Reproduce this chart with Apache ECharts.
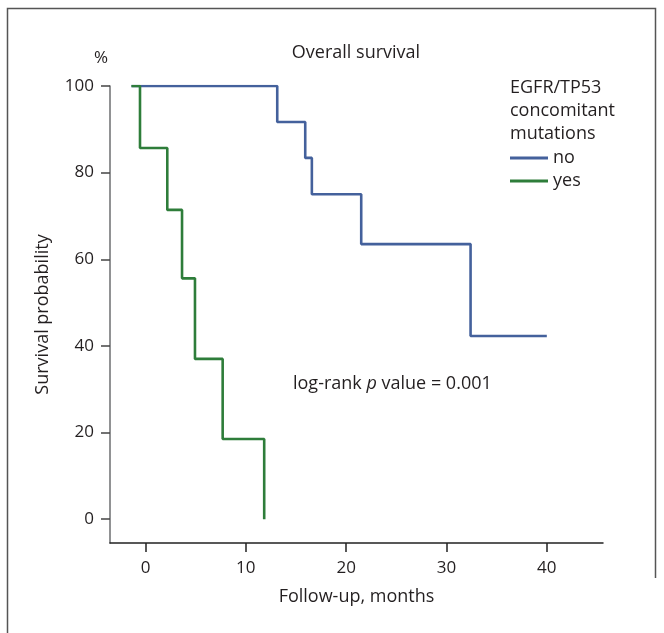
<!DOCTYPE html>
<html>
<head>
<meta charset="utf-8">
<script src="https://cdn.jsdelivr.net/npm/echarts@6/dist/echarts.min.js"></script>
<style>
html,body{margin:0;padding:0;background:#fff;}
#chart{width:664px;height:633px;}
</style>
</head>
<body>
<div id="chart"></div>
<script>
// Data (Kaplan-Meier step points)
const noTimes = [-1.4, 13.13, 15.92, 16.58, 21.5, 32.4, 40.0];
const noSurv  = [100, 91.7, 83.4, 75.0, 63.5, 42.3, 42.3];
const yesTimes = [-1.4, -0.55, 2.17, 3.64, 4.93, 7.69, 11.83];
const yesSurv  = [100, 85.7, 71.4, 55.6, 37.0, 18.5, 0];
const xTicks = [0, 10, 20, 30, 40];
const yTicks = [0, 20, 40, 60, 80, 100];
const seriesNames = ['no', 'yes'];

const FONT = 'Open Sans';
const TXT = '#231f20';
const FS = 18;
const FS_TICK = 17;

function pairs(t, s) { return t.map((v, i) => [v, s[i]]); }

const chart = echarts.init(document.getElementById('chart'));
chart.setOption({
  animation: false,
  backgroundColor: '#fff',
  textStyle: { fontFamily: FONT, color: TXT },
  grid: { left: 110, right: 61, top: 86, bottom: 90 },
  xAxis: {
    type: 'value', min: -3.54, max: 45.6,
    name: 'Follow-up, months', nameLocation: 'middle', nameGap: 45,
    nameTextStyle: { fontSize: FS, color: TXT, fontFamily: FONT },
    axisLine: { show: true, onZero: false, lineStyle: { color: '#222', width: 1.5 } },
    axisTick: { show: true, length: 9, customValues: xTicks, lineStyle: { color: '#222', width: 1.5 } },
    axisLabel: { customValues: xTicks, margin: 17, fontSize: FS_TICK, color: TXT, fontFamily: FONT },
    splitLine: { show: false }
  },
  yAxis: {
    type: 'value', min: -5.5, max: 100,
    name: 'Survival probability', nameLocation: 'middle', nameGap: 58, nameRotate: 90,
    nameTextStyle: { fontSize: FS, color: TXT, fontFamily: FONT },
    axisLine: { show: true, onZero: false, lineStyle: { color: '#6d6e71', width: 1.5 } },
    axisTick: { show: true, length: 9, customValues: yTicks, lineStyle: { color: '#444', width: 1.5 } },
    axisLabel: { customValues: yTicks, margin: 16, fontSize: FS_TICK, color: TXT, fontFamily: FONT },
    splitLine: { show: false }
  },
  legend: {
    data: seriesNames,
    orient: 'vertical', left: 510, top: 149, padding: 0,
    itemWidth: 38, itemHeight: 3, itemGap: 5,
    icon: 'rect',
    textStyle: { fontSize: FS, color: TXT, fontFamily: FONT, lineHeight: 18 },
    selectedMode: false
  },
  series: [
    {
      name: 'no', type: 'line', step: 'end', showSymbol: false, symbol: 'none',
      data: pairs(noTimes, noSurv),
      lineStyle: { color: '#44619c', width: 2.6 }, itemStyle: { color: '#44619c' }, z: 2
    },
    {
      name: 'yes', type: 'line', step: 'end', showSymbol: false, symbol: 'none',
      data: pairs(yesTimes, yesSurv),
      lineStyle: { color: '#2e7d3a', width: 2.6 }, itemStyle: { color: '#2e7d3a' }, z: 3
    }
  ],
  graphic: [
    { type: 'polyline', shape: { points: [[7.5, 633], [7.5, 8.5], [655.5, 8.5], [655.5, 578]] },
      style: { stroke: '#555', lineWidth: 1.5, fill: null }, silent: true },
    { type: 'text', x: 356, y: 53, style: { text: 'Overall survival', fontSize: FS, fontFamily: FONT, fill: TXT, align: 'center', verticalAlign: 'middle' } },
    { type: 'text', x: 101, y: 58, style: { text: '%', fontSize: FS_TICK, fontFamily: FONT, fill: TXT, align: 'center', verticalAlign: 'middle' } },
    { type: 'text', x: 510, y: 76, style: { text: 'EGFR/TP53\nconcomitant\nmutations', fontSize: FS, lineHeight: 23, fontFamily: FONT, fill: TXT, align: 'left', verticalAlign: 'top' } },
    { type: 'text', x: 293, y: 384, style: {
        text: 'log-rank {i|p} value = 0.001', fontSize: FS, fontFamily: FONT, fill: TXT, align: 'left', verticalAlign: 'middle',
        rich: { i: { fontStyle: 'italic', fontSize: FS, fontFamily: FONT, fill: TXT } } } }
  ]
});
</script>
</body>
</html>
